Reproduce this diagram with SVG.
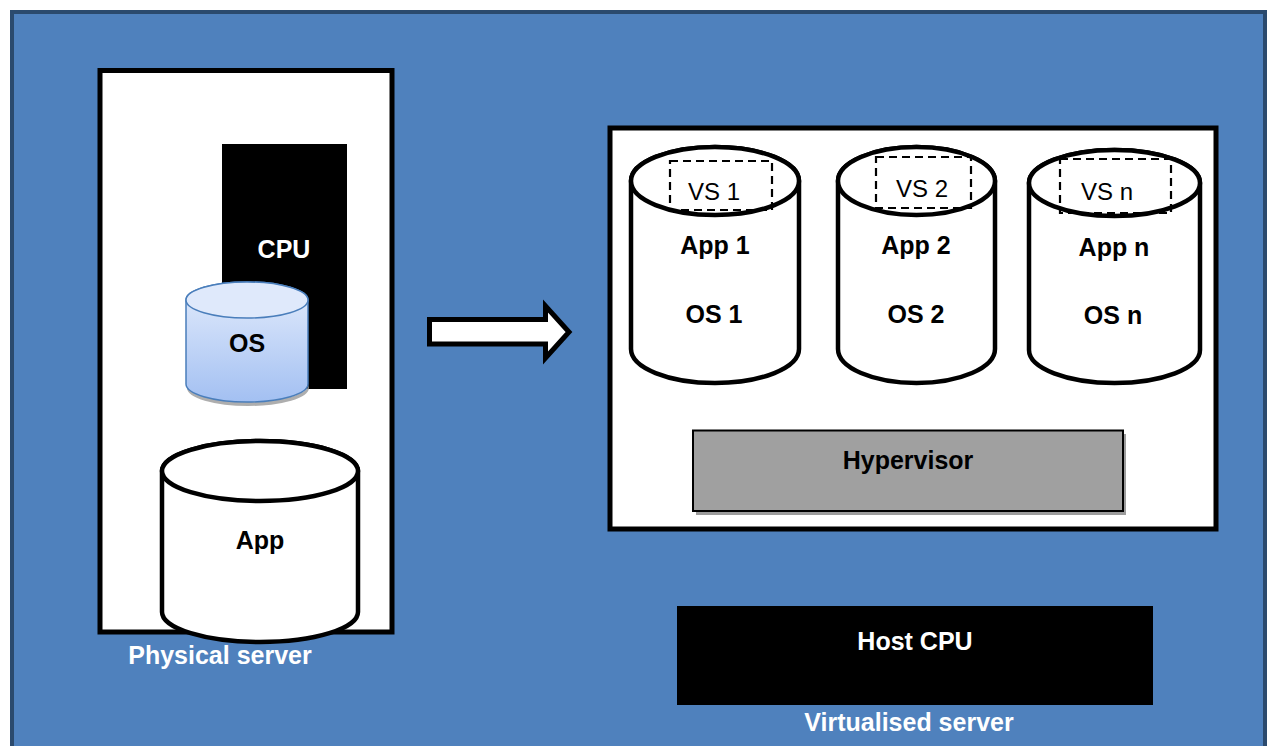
<svg xmlns="http://www.w3.org/2000/svg" width="1268" height="746" viewBox="0 0 1268 746">
  <style>
    .lbl { font-family: "Liberation Sans", Arial, sans-serif; font-weight: bold; font-size: 25px; text-anchor: middle; fill: #000; }
    .wlbl { font-family: "Liberation Sans", Arial, sans-serif; font-weight: bold; font-size: 25px; text-anchor: middle; fill: #fff; }
    .vs { font-family: "Liberation Sans", Arial, sans-serif; font-size: 24px; text-anchor: middle; fill: #000; }
    .cyl { fill: #fff; stroke: #000; stroke-width: 4.5; }
    .box { fill: #fff; stroke: #000; stroke-width: 5; }
    .dash { fill: none; stroke: #000; stroke-width: 2.2; stroke-dasharray: 8 5; }
  </style>
  <defs>
    <linearGradient id="osFill" x1="0" y1="0" x2="0" y2="1">
      <stop offset="0" stop-color="#e3ecfc"/>
      <stop offset="1" stop-color="#a3c0f2"/>
    </linearGradient>
  </defs>

  <!-- page background -->
  <rect x="0" y="0" width="1268" height="746" fill="#fff"/>
  <rect id="canvas" x="12" y="12" width="1253" height="760" fill="#4f81bd" stroke="#2b4a6d" stroke-width="4"/>

  <!-- physical server -->
  <g id="physical-server">
    <rect class="box" x="100" y="70.5" width="292" height="561.5"/>
    <text class="wlbl" x="220" y="664">Physical server</text>
  </g>

  <g id="cpu">
    <rect x="222" y="144" width="125" height="245" fill="#000"/>
    <text class="wlbl" x="284" y="258">CPU</text>
  </g>

  <g id="os">
    <!-- soft shadow under the base -->
    <path d="M187,384 A61,18 0 0 0 309,384 L309,388 A61,18 0 0 1 187,388 Z" fill="#9a9a9a" opacity="0.8"/>
    <path d="M186,300 L186,384 A61,18 0 0 0 308,384 L308,300 A61,18 0 0 0 186,300 Z" fill="url(#osFill)" stroke="#4a7ebb" stroke-width="1.5"/>
    <ellipse cx="247" cy="300" rx="61" ry="18" fill="#dfe9fb" stroke="#4a7ebb" stroke-width="1.5"/>
    <text class="lbl" x="247" y="352">OS</text>
  </g>

  <g id="app">
    <path class="cyl" d="M162,471 L162,612 A98,30 0 0 0 358,612 L358,471 A98,30 0 0 0 162,471 Z"/>
    <ellipse class="cyl" cx="260" cy="471" rx="98" ry="30"/>
    <text class="lbl" x="260" y="549">App</text>
  </g>

  <!-- transition arrow -->
  <g id="connectors">
    <polygon points="429.5,319.5 545.5,319.5 545.5,306 569,332 545.5,358 545.5,344 429.5,344" fill="#fff" stroke="#000" stroke-width="5" stroke-linejoin="miter"/>
  </g>

  <!-- virtualised server -->
  <g id="virtualised-server">
    <rect class="box" x="610" y="128" width="606" height="401"/>
  </g>

  <g id="vm-1">
    <path class="cyl" d="M631,181 L631,349 A84,34 0 0 0 799,349 L799,181 A84,34 0 0 0 631,181 Z"/>
    <ellipse class="cyl" cx="715" cy="181" rx="84" ry="34"/>
    <rect class="dash" x="670" y="161" width="102" height="49"/>
    <text class="vs" x="714" y="200">VS 1</text>
    <text class="lbl" x="715" y="254">App 1</text>
    <text class="lbl" x="714" y="323">OS 1</text>
  </g>

  <g id="vm-2">
    <path class="cyl" d="M838,181 L838,349 A78.5,34 0 0 0 995,349 L995,181 A78.5,34 0 0 0 838,181 Z"/>
    <ellipse class="cyl" cx="916.5" cy="181" rx="78.5" ry="34"/>
    <rect class="dash" x="876" y="157" width="95" height="51"/>
    <text class="vs" x="922" y="197">VS 2</text>
    <text class="lbl" x="916" y="254">App 2</text>
    <text class="lbl" x="916" y="323">OS 2</text>
  </g>

  <g id="vm-n">
    <path class="cyl" d="M1029,183 L1029,350 A85.5,33 0 0 0 1200,350 L1200,183 A85.5,33 0 0 0 1029,183 Z"/>
    <ellipse class="cyl" cx="1114.5" cy="183" rx="85.5" ry="33"/>
    <rect class="dash" x="1060" y="159" width="111" height="54"/>
    <text class="vs" x="1107" y="200">VS n</text>
    <text class="lbl" x="1114" y="256">App n</text>
    <text class="lbl" x="1113" y="324">OS n</text>
  </g>

  <g id="hypervisor">
    <rect x="696" y="434" width="430" height="81" fill="#9c9c9c"/>
    <rect x="693" y="430.5" width="430" height="80.5" fill="#a0a0a0" stroke="#000" stroke-width="2"/>
    <text class="lbl" x="908" y="469">Hypervisor</text>
  </g>

  <g id="host-cpu">
    <rect x="677" y="606" width="476" height="99" fill="#000"/>
    <text class="wlbl" x="915" y="650">Host CPU</text>
    <text class="wlbl" x="909" y="731">Virtualised server</text>
  </g>
</svg>
